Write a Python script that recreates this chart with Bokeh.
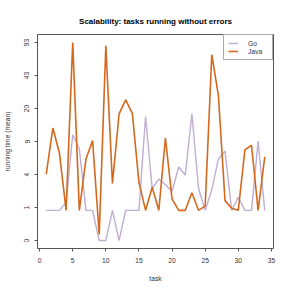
import math
from bokeh.plotting import figure
from bokeh.models import Range1d, FixedTicker, Legend, LegendItem
from bokeh.embed import file_html
from bokeh.resources import INLINE

# ---- data (running time, mean) ----
tasks = list(range(1, 35))
go_times = [1, 1, 1, 1.4, 10.3, 7.2, 1, 1, 0, 0, 1, 0, 1, 1, 1, 16.2, 2.3, 3.1,
            2.6, 2.1, 4.4, 3.5, 17.3, 2.3, 1, 2.2, 5.5, 6.8, 1, 1.7, 1, 1, 8.8, 1]
java_times = [3.6, 12.2, 6.4, 1, 93, 1, 5.5, 8.9, 0.15, 86, 2.7, 17.3, 24.2, 17.5,
              2.8, 1, 2.4, 1, 9.5, 1.6, 1, 1, 2.0, 1, 1.2, 70, 26.8, 1.5, 1.1, 1,
              7.0, 7.9, 1, 5.8]
y_tick_labels = ["0", "1", "4", "9", "20", "43", "93"]
x_ticks = [0, 5, 10, 15, 20, 25, 30, 35]
series_names = ["Go", "Java"]
series_colors = ["#BEAED4", "#D2691E"]

# log-like axis: level = log(t+1)/log(b), with 93 at level 6
BASE = math.log(94) / 6.0
def level(v):
    return math.log(v + 1.0) / BASE

go_lvl = [level(v) for v in go_times]
java_lvl = [level(v) for v in java_times]

FONT = "Liberation Sans"

p = figure(width=291, height=291, output_backend="svg", toolbar_location=None,
           x_range=Range1d(-0.32, 35.32), y_range=Range1d(-0.24, 6.24),
           min_border_left=33, min_border_right=18, min_border_top=34,
           min_border_bottom=43, title="Scalability: tasks running without errors")

p.title.text_font = FONT
p.title.text_font_size = "8px"
p.title.text_font_style = "bold"
p.title.align = "center"
p.title.text_color = "#000000"
p.title.standoff = 17

p.xgrid.visible = False
p.ygrid.visible = False
p.outline_line_color = "#555555"
p.outline_line_width = 1
p.background_fill_color = "white"
p.border_fill_color = "white"

r_go = p.line(tasks, go_lvl, line_color=series_colors[0], line_width=1.4)
r_java = p.line(tasks, java_lvl, line_color=series_colors[1], line_width=1.6)

# axes
xa = p.xaxis[0]
xa.ticker = FixedTicker(ticks=x_ticks)
xa.axis_label = "task"
ya = p.yaxis[0]
ya.ticker = FixedTicker(ticks=list(range(len(y_tick_labels))))
ya.major_label_overrides = {i: s for i, s in enumerate(y_tick_labels)}
ya.axis_label = "running time (mean)"
ya.major_label_orientation = "vertical"

for ax in (xa, ya):
    ax.axis_line_color = None
    ax.major_tick_line_color = "#555555"
    ax.major_tick_in = 0
    ax.major_tick_out = 3
    ax.minor_tick_line_color = None
    ax.major_label_text_font = FONT
    ax.major_label_text_font_size = "6.7px"
    ax.major_label_text_color = "#333333"
    ax.axis_label_text_font = FONT
    ax.axis_label_text_font_size = "6.7px"
    ax.axis_label_text_font_style = "normal"
    ax.axis_label_text_color = "#333333"

xa.major_label_standoff = 6
xa.axis_label_standoff = 9
ya.major_label_standoff = 5
ya.axis_label_standoff = 11

legend = Legend(items=[LegendItem(label=series_names[0], renderers=[r_go]),
                       LegendItem(label=series_names[1], renderers=[r_java])],
                location="top_right", margin=0, padding=4, spacing=0,
                glyph_width=10, glyph_height=8, label_height=8,
                label_standoff=10, label_text_font=FONT,
                label_text_font_size="6.7px", label_text_color="#333333",
                border_line_color="#555555", border_line_width=1,
                background_fill_color="white", background_fill_alpha=1.0)
p.add_layout(legend)

open("out.html", "w").write(file_html(p, INLINE))
